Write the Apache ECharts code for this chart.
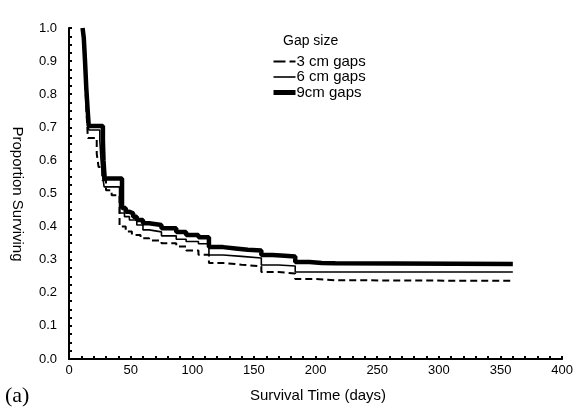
<!DOCTYPE html>
<html>
<head>
<meta charset="utf-8">
<script src="https://cdn.jsdelivr.net/npm/echarts@6/dist/echarts.min.js"></script>
<style>
  html, body { margin: 0; padding: 0; background: #fff; }
  #chart { width: 576px; height: 409px; }
</style>
</head>
<body>
<div id="chart"></div>
<script>
// Kaplan-Meier survival by gap size: [day, proportion surviving after the drop]
const gaps3cm = [
  [11, 1.0], [12, 0.95], [13, 0.86], [14, 0.76], [15.3, 0.668],
  [22.5, 0.62], [24, 0.58], [27, 0.54], [30, 0.51], [34.6, 0.495],
  [41, 0.40], [46, 0.385], [51, 0.375], [58, 0.365], [65, 0.358],
  [75, 0.35], [87, 0.34], [95, 0.328], [105, 0.315], [113.5, 0.29],
  [125, 0.285], [140, 0.28], [156, 0.263], [170, 0.258], [183.5, 0.242],
  [200, 0.238], [216, 0.236], [360, 0.236]
];
const gaps6cm = [
  [11, 1.0], [12, 0.96], [13, 0.88], [14, 0.80], [15, 0.74], [16, 0.692],
  [25, 0.66], [26, 0.60], [27, 0.56], [28.5, 0.52],
  [41, 0.441], [45, 0.43], [49, 0.42], [55, 0.405], [60, 0.39], [65, 0.384],
  [75, 0.372], [87, 0.362], [95, 0.355], [105, 0.348], [113.5, 0.314],
  [125, 0.31], [140, 0.305], [156, 0.284], [170, 0.281], [183.5, 0.263],
  [360, 0.263]
];
const gaps9cm = [
  [11, 1.0], [12, 0.97], [13, 0.90], [14, 0.82], [15, 0.76], [16, 0.704],
  [27.5, 0.66], [28, 0.60], [28.5, 0.57], [29, 0.545],
  [43, 0.456], [46, 0.445], [49, 0.44], [52, 0.43], [55, 0.42], [60, 0.41],
  [65, 0.405], [75, 0.395], [87, 0.384], [95, 0.375], [105, 0.368],
  [113.5, 0.338], [125, 0.334], [135, 0.33], [145, 0.328], [156, 0.314],
  [165, 0.312], [175, 0.31], [183.5, 0.293], [195, 0.29], [205, 0.289],
  [216, 0.287], [360, 0.287]
];
const seriesNames = ['3 cm gaps', '6 cm gaps', '9cm gaps'];
const legendTitle = 'Gap size';
const xAxisTitle = 'Survival Time (days)';
const yAxisTitle = 'Proportion Surviving';
const panelLabel = '(a)';

const FONT = '"Liberation Sans", Arial, sans-serif';
const lineStyles = [
  { color: '#000', width: 2, type: [7, 4] },
  { color: '#000', width: 1.6 },
  { color: '#000', width: 4.5 }
];
const legendLineStyles = [
  { color: '#000', width: 2, type: [12, 4] },
  { color: '#000', width: 1.6 },
  { color: '#000', width: 5 }
];

const chart = echarts.init(document.getElementById('chart'), null, { renderer: 'canvas' });

chart.setOption({
  animation: false,
  backgroundColor: '#fff',
  grid: { left: 69, right: 10, top: 28, bottom: 50, containLabel: false },
  xAxis: {
    type: 'value', min: 0, max: 400, interval: 50,
    axisLine: { lineStyle: { color: '#000', width: 2 } },
    axisTick: { inside: true, length: 3, lineStyle: { color: '#000', width: 2 } },
    minorTick: { show: true, splitNumber: 5, length: 3, lineStyle: { color: '#000', width: 2 } },
    splitLine: { show: false },
    axisLabel: { color: '#000', fontFamily: FONT, fontSize: 13, margin: 5 }
  },
  yAxis: {
    type: 'value', min: 0, max: 1, interval: 0.1,
    axisLine: { show: true, lineStyle: { color: '#000', width: 2 } },
    axisTick: { show: true, inside: true, length: 3, lineStyle: { color: '#000', width: 2 } },
    minorTick: { show: true, splitNumber: 4, length: 3, lineStyle: { color: '#000', width: 2 } },
    splitLine: { show: false },
    axisLabel: {
      color: '#000', fontFamily: FONT, fontSize: 13, margin: 12,
      formatter: v => v.toFixed(1)
    }
  },
  legend: {
    orient: 'vertical', left: 266, top: 49, itemGap: 0.5,
    itemWidth: 22, itemHeight: 10,
    itemStyle: { opacity: 0 },
    textStyle: { color: '#000', fontFamily: FONT, fontSize: 15, lineHeight: 15, padding: [0, 0, 0, -4] },
    data: seriesNames.map((name, i) => ({ name, lineStyle: legendLineStyles[i] }))
  },
  graphic: [
    { type: 'text', left: 283, top: 34,
      style: { text: legendTitle, fill: '#000', font: '14px ' + FONT } },
    { type: 'text', x: 318, y: 396,
      style: { text: xAxisTitle, fill: '#000', font: '15px ' + FONT, textAlign: 'center', textVerticalAlign: 'middle' } },
    { type: 'text', x: 17, y: 194, rotation: -Math.PI / 2,
      style: { text: yAxisTitle, fill: '#000', font: '15px ' + FONT, textAlign: 'center', textVerticalAlign: 'middle' } },
    { type: 'text', x: 5, y: 396,
      style: { text: panelLabel, fill: '#000', font: '22px "Liberation Serif", "Times New Roman", serif', textVerticalAlign: 'middle' } }
  ],
  series: [
    { name: seriesNames[0], type: 'line', step: 'end', symbol: 'none', data: gaps3cm,
      color: '#000', lineStyle: lineStyles[0], z: 3 },
    { name: seriesNames[1], type: 'line', step: 'end', symbol: 'none', data: gaps6cm,
      color: '#000', lineStyle: lineStyles[1], z: 4 },
    { name: seriesNames[2], type: 'line', step: 'end', symbol: 'none', data: gaps9cm,
      color: '#000', lineStyle: lineStyles[2], z: 5 }
  ]
});
</script>
</body>
</html>
